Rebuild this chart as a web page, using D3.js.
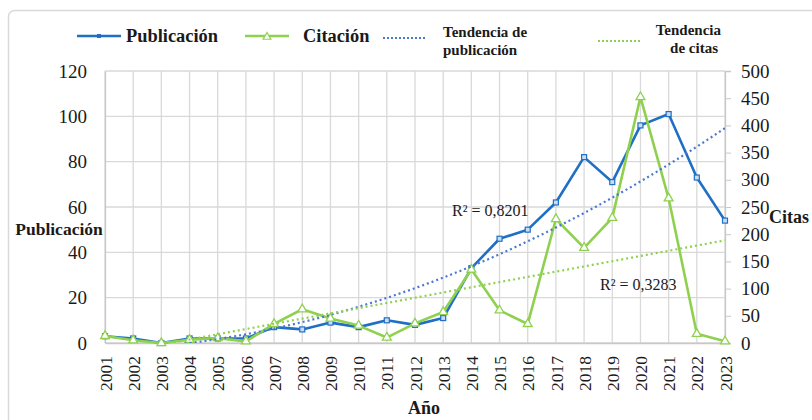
<!DOCTYPE html>
<html>
<head>
<meta charset="utf-8">
<script src="https://cdn.jsdelivr.net/npm/d3@7"></script>
<style>
  body { margin: 0; background: #fff; }
  svg text { font-family: "Liberation Serif", "Times New Roman", serif; fill: #1a1a1a; }
</style>
</head>
<body>
<svg id="chart"></svg>
<script>
// data
const years = ["2001", "2002", "2003", "2004", "2005", "2006", "2007", "2008", "2009", "2010", "2011", "2012",
  "2013", "2014", "2015", "2016", "2017", "2018", "2019", "2020", "2021", "2022", "2023"];
const publicaciones = [3, 2, 0, 2, 2, 2, 7, 6, 9, 7, 10, 8, 11, 33, 46, 50, 62, 82, 71, 96, 101, 73, 54];
const citas = [13, 5, 0, 6, 9, 3, 35, 62, 45, 32, 10, 36, 57, 135, 60, 35, 228, 175, 230, 452, 266, 17, 3];
const leftTicks = [0, 20, 40, 60, 80, 100, 120];
const rightTicks = [0, 50, 100, 150, 200, 250, 300, 350, 400, 450, 500];
const r2Labels = ["R² = 0,8201", "R² = 0,3283"];

const blue = "#1f6fc5";
const green = "#8fd14f";
const trendBlue = "#4a78d0";

// least squares polynomial fit, returns coefficients [c0, c1, ...]
function polyFit(xs, ys, order) {
  const n = order + 1;
  const A = [];
  for (let i = 0; i < n; i++) {
    A.push([]);
    for (let j = 0; j <= n; j++) A[i].push(0);
  }
  xs.forEach((x, k) => {
    for (let i = 0; i < n; i++) {
      for (let j = 0; j < n; j++) A[i][j] += Math.pow(x, i + j);
      A[i][n] += ys[k] * Math.pow(x, i);
    }
  });
  // gauss elimination
  for (let i = 0; i < n; i++) {
    for (let r = i + 1; r < n; r++) {
      const f = A[r][i] / A[i][i];
      for (let c = i; c <= n; c++) A[r][c] -= f * A[i][c];
    }
  }
  const coef = new Array(n).fill(0);
  for (let i = n - 1; i >= 0; i--) {
    let s = A[i][n];
    for (let j = i + 1; j < n; j++) s -= A[i][j] * coef[j];
    coef[i] = s / A[i][i];
  }
  return coef;
}

class DualAxisChart {
  constructor(_config) {
    this.config = {
      parentElement: _config.parentElement,
      containerWidth: _config.containerWidth || 812,
      containerHeight: _config.containerHeight || 420,
      margin: _config.margin || { top: 71, right: 87, bottom: 77, left: 105 }
    };
    this.initVis();
  }

  initVis() {
    let vis = this;
    vis.width = vis.config.containerWidth - vis.config.margin.left - vis.config.margin.right;
    vis.height = vis.config.containerHeight - vis.config.margin.top - vis.config.margin.bottom;

    vis.xScale = d3.scalePoint().domain(years).range([0, vis.width]);
    vis.yLeft = d3.scaleLinear().domain([0, 120]).range([vis.height, 0]);
    vis.yRight = d3.scaleLinear().domain([0, 500]).range([vis.height, 0]);

    vis.svg = d3.select(vis.config.parentElement)
      .attr("width", vis.config.containerWidth)
      .attr("height", vis.config.containerHeight);

    // outer frame
    vis.svg.append("rect")
      .attr("x", 8.5).attr("y", 10.5)
      .attr("width", 830).attr("height", 440)
      .attr("rx", 6)
      .attr("fill", "none")
      .attr("stroke", "#d9d9d9")
      .attr("stroke-width", 1.5);

    vis.chart = vis.svg.append("g")
      .attr("transform", `translate(${vis.config.margin.left},${vis.config.margin.top})`);

    vis.svg.append("clipPath").attr("id", "plot-clip")
      .append("rect")
      .attr("x", 0).attr("y", 0)
      .attr("width", vis.width).attr("height", vis.height);

    vis.renderVis();
  }

  renderVis() {
    let vis = this;

    // horizontal grid
    vis.chart.append("g")
      .selectAll("line")
      .data(leftTicks)
      .join("line")
      .attr("x1", 0).attr("x2", vis.width)
      .attr("y1", d => vis.yLeft(d)).attr("y2", d => vis.yLeft(d))
      .attr("stroke", "#d9d9d9").attr("stroke-width", 1.3);

    // vertical grid
    vis.chart.append("g")
      .selectAll("line")
      .data(years)
      .join("line")
      .attr("x1", d => vis.xScale(d)).attr("x2", d => vis.xScale(d))
      .attr("y1", 0).attr("y2", vis.height)
      .attr("stroke", "#d9d9d9").attr("stroke-width", 1.3);

    // left axis
    const leftAxis = d3.axisLeft(vis.yLeft).tickValues(leftTicks).tickSize(0).tickPadding(18);
    const gl = vis.chart.append("g").call(leftAxis);
    gl.select(".domain").attr("stroke", "#c8c8c8").attr("stroke-width", 1.3);
    gl.selectAll("text").style("font-size", "19px").attr("font-family", null);

    // right axis
    const rightAxis = d3.axisRight(vis.yRight).tickValues(rightTicks).tickSize(6).tickPadding(10);
    const gr = vis.chart.append("g").attr("transform", `translate(${vis.width},0)`).call(rightAxis);
    gr.select(".domain").attr("stroke", "#c8c8c8").attr("stroke-width", 1.3);
    gr.selectAll("line").attr("stroke", "#c8c8c8");
    gr.selectAll("text").style("font-size", "19px").attr("font-family", null);

    // bottom axis
    const bottomAxis = d3.axisBottom(vis.xScale).tickSize(0).tickPadding(12);
    const gb = vis.chart.append("g").attr("transform", `translate(0,${vis.height})`).call(bottomAxis);
    gb.select(".domain").attr("stroke", "#c8c8c8").attr("stroke-width", 1.3);
    gb.selectAll("text")
      .style("font-size", "17.5px").attr("font-family", null)
      .attr("text-anchor", "end")
      .attr("transform", "rotate(-90)")
      .attr("x", -13).attr("y", 0).attr("dy", "0.35em");

    // axis titles
    vis.svg.append("text").attr("x", 59).attr("y", 235)
      .attr("text-anchor", "middle").style("font-size", "17.5px").style("font-weight", "bold")
      .text("Publicación");
    vis.svg.append("text").attr("x", 769).attr("y", 223)
      .style("font-size", "18px").style("font-weight", "bold")
      .text("Citas");
    vis.svg.append("text").attr("x", 424).attr("y", 414)
      .attr("text-anchor", "middle").style("font-size", "18px").style("font-weight", "bold")
      .text("Año");

    const idx = years.map((d, i) => i + 1);

    // series lines
    const linePub = d3.line().x((d, i) => vis.xScale(years[i])).y(d => vis.yLeft(d));
    const lineCit = d3.line().x((d, i) => vis.xScale(years[i])).y(d => vis.yRight(d));

    vis.chart.append("path").datum(publicaciones)
      .attr("d", linePub).attr("fill", "none")
      .attr("stroke", blue).attr("stroke-width", 2.6).attr("stroke-linejoin", "round");
    vis.chart.append("g").selectAll("rect")
      .data(publicaciones).join("rect")
      .attr("x", (d, i) => vis.xScale(years[i]) - 2.5)
      .attr("y", d => vis.yLeft(d) - 2.5)
      .attr("width", 5).attr("height", 5)
      .attr("fill", "#c9dcf2").attr("stroke", blue).attr("stroke-width", 1.2);

    vis.chart.append("path").datum(citas)
      .attr("d", lineCit).attr("fill", "none")
      .attr("stroke", green).attr("stroke-width", 2.6).attr("stroke-linejoin", "round");
    const tri = d3.symbol().type(d3.symbolTriangle).size(34);
    vis.chart.append("g").selectAll("path")
      .data(citas).join("path")
      .attr("d", tri)
      .attr("transform", (d, i) => `translate(${vis.xScale(years[i])},${vis.yRight(d)})`)
      .attr("fill", "#fff").attr("stroke", green).attr("stroke-width", 1.3);

    // trend lines (fitted from the data, like the spreadsheet did)
    const pc = polyFit(idx, publicaciones, 2);
    const cc = polyFit(idx, citas, 1);
    const fine = d3.range(1, 23.001, 0.1);
    const xi = d3.scaleLinear().domain([1, 23]).range([0, vis.width]);
    const trend = vis.chart.append("g").attr("clip-path", "url(#plot-clip)");
    trend.append("path")
      .datum(fine)
      .attr("d", d3.line().x(t => xi(t)).y(t => vis.yLeft(pc[0] + pc[1] * t + pc[2] * t * t)))
      .attr("fill", "none").attr("stroke", trendBlue).attr("stroke-width", 2.2)
      .attr("stroke-dasharray", "2 3");
    trend.append("path")
      .datum(fine)
      .attr("d", d3.line().x(t => xi(t)).y(t => vis.yRight(cc[0] + cc[1] * t)))
      .attr("fill", "none").attr("stroke", green).attr("stroke-width", 2.2)
      .attr("stroke-dasharray", "2 3");

    // R² labels
    vis.svg.append("text").attr("x", 452).attr("y", 216).style("font-size", "16px").text(r2Labels[0]);
    vis.svg.append("text").attr("x", 600).attr("y", 290).style("font-size", "16px").text(r2Labels[1]);

    // legend
    const lg = vis.svg.append("g");
    lg.append("line").attr("x1", 77).attr("x2", 121).attr("y1", 36).attr("y2", 36)
      .attr("stroke", blue).attr("stroke-width", 2.6);
    lg.append("rect").attr("x", 97).attr("y", 34).attr("width", 4).attr("height", 4)
      .attr("fill", blue);
    lg.append("text").attr("x", 126).attr("y", 42).style("font-size", "18.4px").style("font-weight", "bold")
      .text("Publicación");

    lg.append("line").attr("x1", 245).attr("x2", 289).attr("y1", 36).attr("y2", 36)
      .attr("stroke", green).attr("stroke-width", 2.6);
    lg.append("path").attr("d", d3.symbol().type(d3.symbolTriangle).size(26))
      .attr("transform", "translate(267,37)")
      .attr("fill", "#fff").attr("stroke", green).attr("stroke-width", 1.2);
    lg.append("text").attr("x", 303).attr("y", 42).style("font-size", "18.4px").style("font-weight", "bold")
      .text("Citación");

    lg.append("line").attr("x1", 383).attr("x2", 427).attr("y1", 38).attr("y2", 38)
      .attr("stroke", trendBlue).attr("stroke-width", 2).attr("stroke-dasharray", "2 2");
    lg.append("text").attr("x", 443).attr("y", 37).style("font-size", "15px").style("font-weight", "bold")
      .text("Tendencia de");
    lg.append("text").attr("x", 443).attr("y", 55).style("font-size", "15px").style("font-weight", "bold")
      .text("publicación");

    lg.append("line").attr("x1", 598).attr("x2", 640).attr("y1", 41).attr("y2", 41)
      .attr("stroke", green).attr("stroke-width", 2).attr("stroke-dasharray", "2 2");
    lg.append("text").attr("x", 721).attr("y", 35).attr("text-anchor", "end")
      .style("font-size", "15px").style("font-weight", "bold").text("Tendencia");
    lg.append("text").attr("x", 718).attr("y", 53).attr("text-anchor", "end")
      .style("font-size", "15px").style("font-weight", "bold").text("de citas");
  }
}

new DualAxisChart({ parentElement: "#chart" });
</script>
</body>
</html>
